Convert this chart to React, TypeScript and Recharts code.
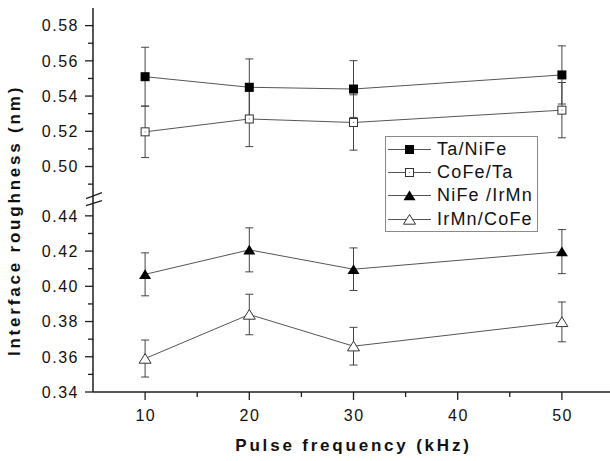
import { ErrorBar, Legend, Line, LineChart, ReferenceLine, XAxis, YAxis } from "recharts";

// pulse frequency (kHz)
const freqs = [10, 20, 30, 50];

// interface roughness (nm) and error bars, per interface
const taNiFe = [0.551, 0.545, 0.544, 0.552];
const taNiFeErr = [0.0167, 0.0161, 0.0161, 0.0165];
const coFeTa = [0.5197, 0.527, 0.525, 0.532];
const coFeTaErr = [0.0146, 0.0157, 0.0157, 0.0157];
const niFeIrMn = [0.4068, 0.4207, 0.4097, 0.4197];
const niFeIrMnErr = [0.0122, 0.0125, 0.0121, 0.0125];
const irMnCoFe = [0.359, 0.384, 0.366, 0.3798];
const irMnCoFeErr = [0.0105, 0.0115, 0.0107, 0.0113];

const xMajor = [10, 20, 30, 40, 50];
const xMinor = [15, 25, 35, 45];
const yLowMajor = [0.34, 0.36, 0.38, 0.4, 0.42, 0.44];
const yLowMinor = [0.35, 0.37, 0.39, 0.41, 0.43];
const yHighMajor = [0.5, 0.52, 0.54, 0.56, 0.58];
const yHighMinor = [0.49, 0.51, 0.53, 0.55, 0.57];

// broken y axis: values above the break are shifted down by GAP
const GAP = 0.032;
const toPlot = (v: number) => (v > 0.46 ? v - GAP : v);
const fromPlot = (t: number) => (t > 0.45 ? t + GAP : t);

const FONT = "'Liberation Sans', Arial, Helvetica, sans-serif";
const INK = "#1e1e1e";

const yMajorSet = new Set([...yLowMajor, ...yHighMajor.map(toPlot)].map((v) => v.toFixed(4)));
const yTicks = [...yLowMajor, ...yLowMinor, ...yHighMajor.map(toPlot), ...yHighMinor.map(toPlot)].sort(
  (a, b) => a - b
);
const xTicks = [...xMajor, ...xMinor].sort((a, b) => a - b);

type Shape = "sqFill" | "sqOpen" | "triFill" | "triOpen";

const series: { key: string; name: string; shape: Shape }[] = [
  { key: "tn", name: "Ta/NiFe", shape: "sqFill" },
  { key: "ct", name: "CoFe/Ta", shape: "sqOpen" },
  { key: "ni", name: "NiFe /IrMn", shape: "triFill" },
  { key: "ic", name: "IrMn/CoFe", shape: "triOpen" },
];

const rows = freqs.map((f, i) => ({
  f,
  tn: toPlot(taNiFe[i]),
  tnErr: taNiFeErr[i],
  ct: toPlot(coFeTa[i]),
  ctErr: coFeTaErr[i],
  ni: toPlot(niFeIrMn[i]),
  niErr: niFeIrMnErr[i],
  ic: toPlot(irMnCoFe[i]),
  icErr: irMnCoFeErr[i],
}));

function Marker({ shape, cx, cy }: { shape: Shape; cx: number; cy: number }) {
  if (shape === "sqFill")
    return <rect x={cx - 4.5} y={cy - 4.5} width={9} height={9} fill="#000" />;
  if (shape === "sqOpen")
    return (
      <g>
        <rect x={cx - 4} y={cy - 4} width={8} height={8} fill="#fff" stroke="#333" strokeWidth={1} />
        <rect x={cx - 0.5} y={cy - 0.5} width={1} height={1} fill="#666" />
      </g>
    );
  const pts = `${cx - 6},${cy + 4.7} ${cx + 6},${cy + 4.7} ${cx},${cy - 5}`;
  if (shape === "triFill") return <polygon points={pts} fill="#000" />;
  return <polygon points={pts} fill="#fff" stroke="#333" strokeWidth={1} />;
}

function YTick(props: any) {
  const { x, y, payload } = props;
  const major = yMajorSet.has(Number(payload.value).toFixed(4));
  return (
    <g>
      <line x1={x - (major ? 8 : 5)} x2={x} y1={y} y2={y} stroke={INK} strokeWidth={1.3} />
      {major && (
        <text
          x={x - 14}
          y={y}
          dy="0.36em"
          textAnchor="end"
          fontFamily={FONT}
          fontSize={16}
          letterSpacing={1.5}
          fill="#111"
        >
          {fromPlot(payload.value).toFixed(2)}
        </text>
      )}
    </g>
  );
}

function XTick(props: any) {
  const { x, y, payload } = props;
  const major = xMajor.includes(payload.value);
  return (
    <g>
      <line x1={x} x2={x} y1={y} y2={y + (major ? 8 : 5)} stroke={INK} strokeWidth={1.3} />
      {major && (
        <text
          x={x + 0.7}
          y={y + 29}
          textAnchor="middle"
          fontFamily={FONT}
          fontSize={16}
          letterSpacing={1.5}
          fill="#111"
        >
          {payload.value}
        </text>
      )}
    </g>
  );
}

function LegendBox() {
  return (
    <div
      style={{
        border: "1px solid #8a8a8a",
        background: "#fff",
        width: 151,
        paddingTop: 1,
        fontFamily: FONT,
        fontSize: 18,
        letterSpacing: 1.2,
        color: "#111",
      }}
    >
      {series.map((s) => (
        <div key={s.key} style={{ display: "flex", alignItems: "center", height: 23.2 }}>
          <svg width={51} height={23} style={{ display: "block" }}>
            <line x1={2} x2={45} y1={11.5} y2={11.5} stroke="#555" strokeWidth={1} />
            <Marker shape={s.shape} cx={23.5} cy={11.5} />
          </svg>
          <span style={{ lineHeight: "23px" }}>{s.name}</span>
        </div>
      ))}
    </div>
  );
}

const breakMarks = [
  [
    { x: 4.33, y: 0.4498 },
    { x: 5.86, y: 0.4532 },
  ],
  [
    { x: 4.33, y: 0.4458 },
    { x: 5.86, y: 0.4487 },
  ],
];

export default function App() {
  return (
    <div
      style={{
        position: "absolute",
        left: 0,
        top: 0,
        width: 610,
        height: 461,
        overflow: "hidden",
        background: "#fff",
      }}
    >
      <LineChart width={640} height={461} data={rows} margin={{ top: 8, right: 26, bottom: 0, left: 0 }}>
        <XAxis
          dataKey="f"
          type="number"
          domain={[5, 55]}
          ticks={xTicks}
          interval={0}
          allowDataOverflow
          height={69}
          tickSize={0}
          tickMargin={0}
          tickLine={false}
          tick={(p: any) => <XTick {...p} />}
          axisLine={{ stroke: INK, strokeWidth: 1.5 }}
          label={(p: any) => {
            const vb = p.viewBox;
            return (
              <text
                x={vb.x + vb.width / 2}
                y={vb.y + 58.7}
                textAnchor="middle"
                fontFamily={FONT}
                fontSize={17}
                fontWeight="bold"
                letterSpacing={2.8}
                fill="#111"
              >
                Pulse frequency (kHz)
              </text>
            );
          }}
        />
        <XAxis
          xAxisId="top"
          orientation="top"
          type="number"
          domain={[5, 55]}
          height={0}
          tick={false}
          tickLine={false}
          axisLine={{ stroke: INK, strokeWidth: 1.5 }}
        />
        <YAxis
          type="number"
          domain={[0.34, toPlot(0.59)]}
          ticks={yTicks}
          interval={0}
          allowDataOverflow
          width={93}
          tickSize={0}
          tickMargin={0}
          tickLine={false}
          tick={(p: any) => <YTick {...p} />}
          axisLine={{ stroke: INK, strokeWidth: 1.5 }}
          label={(p: any) => {
            const vb = p.viewBox;
            const cy = vb.y + vb.height / 2 + 20.5;
            return (
              <text
                x={19.5}
                y={cy}
                transform={`rotate(-90 19.5 ${cy})`}
                textAnchor="middle"
                fontFamily={FONT}
                fontSize={17}
                fontWeight="bold"
                letterSpacing={2.8}
                fill="#111"
              >
                Interface roughness (nm)
              </text>
            );
          }}
        />
        {breakMarks.map((seg, i) => (
          <ReferenceLine key={i} segment={seg} ifOverflow="visible" stroke={INK} strokeWidth={1.3} />
        ))}
        {series.map((s) => (
          <Line
            key={s.key}
            dataKey={s.key}
            name={s.name}
            stroke="#555"
            strokeWidth={1}
            isAnimationActive={false}
            activeDot={false}
            dot={(p: any) => <Marker key={`${s.key}-${p.index}`} shape={s.shape} cx={p.cx} cy={p.cy} />}
          >
            <ErrorBar dataKey={`${s.key}Err`} direction="y" width={4} stroke="#444" strokeWidth={1} />
          </Line>
        ))}
        <Legend
          layout="vertical"
          align="center"
          verticalAlign="middle"
          content={() => <LegendBox />}
          wrapperStyle={{ left: 385, top: 136, width: "auto", right: "auto", bottom: "auto" }}
        />
      </LineChart>
    </div>
  );
}
